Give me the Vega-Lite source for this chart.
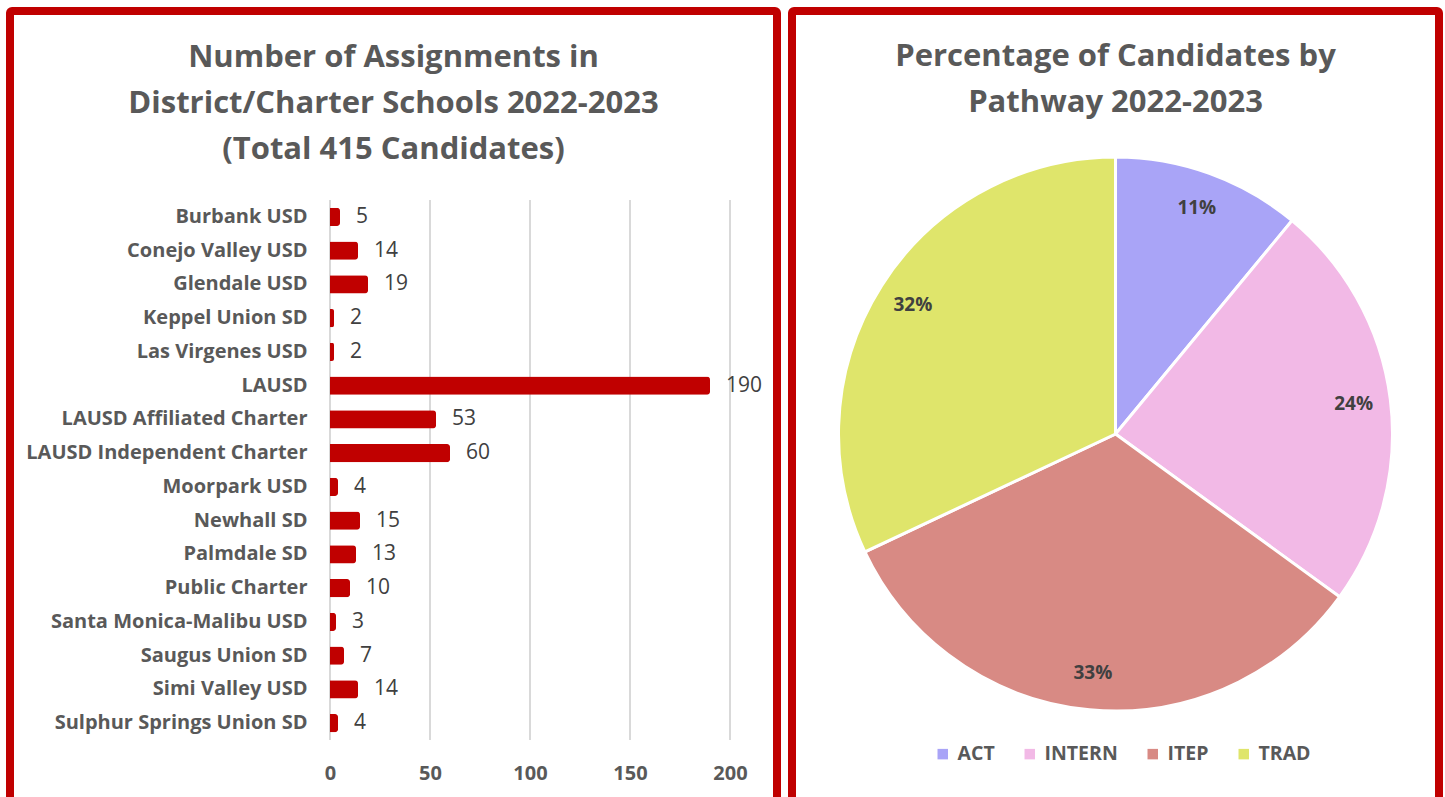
{
  "$schema": "https://vega.github.io/schema/vega-lite/v6.json",
  "padding": {"left": 6, "top": 4, "right": 0, "bottom": 0},
  "spacing": 4,
  "background": "white",
  "config": {
    "view": {"stroke": "#c00000", "strokeWidth": 8, "cornerRadius": 2},
    "font": "Open Sans",
    "title": {"font": "Open Sans", "fontWeight": "bold", "fontSize": 31, "color": "#595959", "lineHeight": 46, "anchor": "middle", "frame": "group"}
  },
  "datasets": {
    "schools": [
      {"school": "Burbank USD", "count": 5},
      {"school": "Conejo Valley USD", "count": 14},
      {"school": "Glendale USD", "count": 19},
      {"school": "Keppel Union SD", "count": 2},
      {"school": "Las Virgenes USD", "count": 2},
      {"school": "LAUSD\u00a0\u00a0\u00a0", "count": 190},
      {"school": "LAUSD Affiliated Charter", "count": 53},
      {"school": "LAUSD Independent Charter", "count": 60},
      {"school": "Moorpark USD", "count": 4},
      {"school": "Newhall SD", "count": 15},
      {"school": "Palmdale SD", "count": 13},
      {"school": "Public Charter", "count": 10},
      {"school": "Santa Monica-Malibu USD", "count": 3},
      {"school": "Saugus Union SD", "count": 7},
      {"school": "Simi Valley USD", "count": 14},
      {"school": "Sulphur Springs Union SD", "count": 4}
    ],
    "gridticks": [{"tick": 0}, {"tick": 50}, {"tick": 100}, {"tick": 150}, {"tick": 200}],
    "pathways": [
      {"pathway": "ACT", "share": 0.11},
      {"pathway": "INTERN", "share": 0.24},
      {"pathway": "ITEP", "share": 0.33},
      {"pathway": "TRAD", "share": 0.32}
    ]
  },
  "hconcat": [
    {
      "width": 767,
      "height": 846,
      "title": {"text": ["Number of Assignments in", "District/Charter Schools 2022-2023", "(Total 415 Candidates)"], "offset": -155},
      "layer": [
        {
          "data": {"name": "gridticks"},
          "mark": {"type": "rule", "color": "#d9d9d9", "strokeWidth": 2},
          "encoding": {
            "x": {"field": "tick", "type": "quantitative", "scale": {"domain": [0, 200], "range": [320, 720]},
                  "axis": {"values": [0, 50, 100, 150, 200], "title": null, "grid": false, "domain": false, "ticks": false, "labelFlush": false, "offset": -100, "labelPadding": 6, "labelFont": "Open Sans", "labelFontWeight": "bold", "labelFontSize": 20, "labelColor": "#595959"}},
            "y": {"datum": 0, "type": "quantitative", "scale": {"domain": [0, 1], "range": [189, 729]}, "axis": null},
            "y2": {"datum": 1}
          }
        },
        {
          "data": {"name": "schools"},
          "encoding": {
            "x": {"field": "count", "type": "quantitative", "scale": {"domain": [0, 200], "range": [320, 720]},
                  "axis": {"values": [0, 50, 100, 150, 200], "title": null, "grid": false, "domain": false, "ticks": false, "labelFlush": false, "offset": -100, "labelPadding": 6, "labelFont": "Open Sans", "labelFontWeight": "bold", "labelFontSize": 20, "labelColor": "#595959"}},
            "y": {"field": "school", "type": "nominal", "sort": null, "scale": {"range": [189, 729], "paddingInner": 0.46, "paddingOuter": 0.23},
                  "axis": {"title": null, "domain": false, "ticks": false, "offset": -320, "labelPadding": 23, "labelLimit": 0, "labelFont": "Open Sans", "labelFontWeight": "bold", "labelFontSize": 20, "labelColor": "#595959"}}
          },
          "layer": [
            {"mark": {"type": "bar", "color": "#c00000", "cornerRadiusEnd": 3}},
            {"mark": {"type": "text", "align": "left", "baseline": "middle", "dx": 16, "font": "Open Sans", "fontSize": 21, "color": "#404040"},
             "encoding": {"text": {"field": "count", "type": "quantitative"}}}
          ]
        }
      ],
      "resolve": {"scale": {"y": "independent"}}
    },
    {
      "width": 647,
      "height": 846,
      "title": {"text": ["Percentage of Candidates by", "Pathway 2022-2023"], "offset": -111},
      "data": {"name": "pathways"},
      "layer": [
        {"mark": {"type": "point", "opacity": 0},
         "encoding": {
           "x": {"datum": 0, "type": "quantitative", "axis": null},
           "y": {"datum": 0, "type": "quantitative", "axis": null}
         }},
        {"mark": {"type": "arc", "outerRadius": 277, "stroke": "white", "strokeWidth": 3},
         "encoding": {
           "theta": {"field": "share", "type": "quantitative", "stack": true},
           "order": {"field": "pathway", "type": "ordinal", "sort": "ascending"},
           "color": {"field": "pathway", "type": "nominal",
                  "scale": {"domain": ["ACT", "INTERN", "ITEP", "TRAD"], "range": ["#a9a4f7", "#f2b9e6", "#d88a84", "#dfe56b"]},
                  "legend": {"title": null, "orient": "none", "legendX": 923, "legendY": 733, "direction": "horizontal", "symbolType": "square", "symbolSize": 110, "symbolStrokeWidth": 0, "labelFont": "Open Sans", "labelFontWeight": "bold", "labelFontSize": 19.5, "labelColor": "#595959", "labelOffset": 5, "columnPadding": 25}}
         }},
        {"mark": {"type": "text", "radius": 240, "font": "Open Sans", "fontWeight": "bold", "fontSize": 19, "color": "#404040"},
         "encoding": {
           "theta": {"field": "share", "type": "quantitative", "stack": true},
           "order": {"field": "pathway", "type": "ordinal", "sort": "ascending"},
           "text": {"field": "share", "type": "quantitative", "format": ".0%"}
         }}
      ]
    }
  ]
}
